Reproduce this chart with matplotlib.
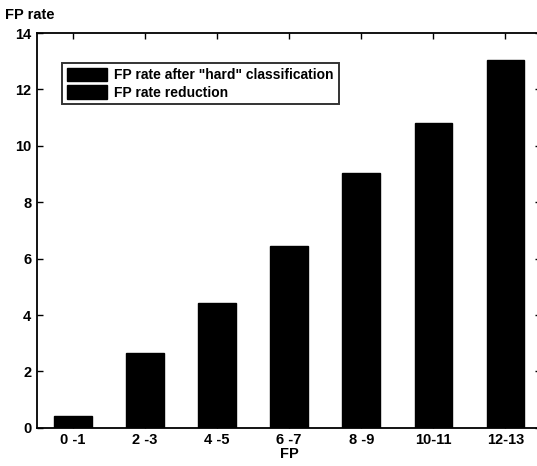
import matplotlib
matplotlib.use("Agg")
import matplotlib.pyplot as plt
from matplotlib.patches import Patch

categories = ["0 -1", "2 -3", "4 -5", "6 -7", "8 -9", "10-11", "12-13"]
fp_rate_hard = [0.43, 2.67, 4.41, 6.45, 9.05, 10.8, 13.05]
legend_labels = ['FP rate after "hard" classification', "FP rate reduction"]
y_ticks = [0, 2, 4, 6, 8, 10, 12, 14]

plt.rcParams["font.family"] = ["Liberation Sans", "DejaVu Sans"]
plt.rcParams["font.weight"] = "bold"
fs = 10.5

fig = plt.figure(figsize=(5.37, 4.66), dpi=100)
ax = fig.add_axes([0.069, 0.082, 0.939, 0.847])

pos = list(range(1, len(categories) + 1))
ax.bar(pos, fp_rate_hard, width=0.52, color="black", edgecolor="black")

ax.set_xlim(0.5, 7.5)
ax.set_ylim(0, 14)
ax.set_xticks(pos)
ax.set_xticklabels(categories, fontsize=fs, fontweight="bold")
ax.set_yticks(y_ticks)
ax.set_yticklabels([str(v) for v in y_ticks], fontsize=fs, fontweight="bold")
ax.tick_params(direction="in", length=4, width=1, top=True, right=True, pad=4)
for s in ax.spines.values():
    s.set_linewidth(1.3)

ax.set_xlabel("FP", fontsize=fs, fontweight="bold", labelpad=0)
fig.text(0.01, 0.968, "FP rate", fontsize=fs, fontweight="bold", ha="left", va="center")

handles = [Patch(facecolor="black", edgecolor="black"),
           Patch(facecolor="black", edgecolor="black")]
leg = ax.legend(handles, legend_labels, loc="upper left",
                bbox_to_anchor=(0.05, 0.925), fontsize=10, frameon=True,
                fancybox=False, edgecolor="black", handlelength=2.9,
                handleheight=1.15, handletextpad=0.5, labelspacing=0.2,
                borderpad=0.35, borderaxespad=0)
leg.get_frame().set_linewidth(1.4)

fig.savefig("out.png", dpi=100)
